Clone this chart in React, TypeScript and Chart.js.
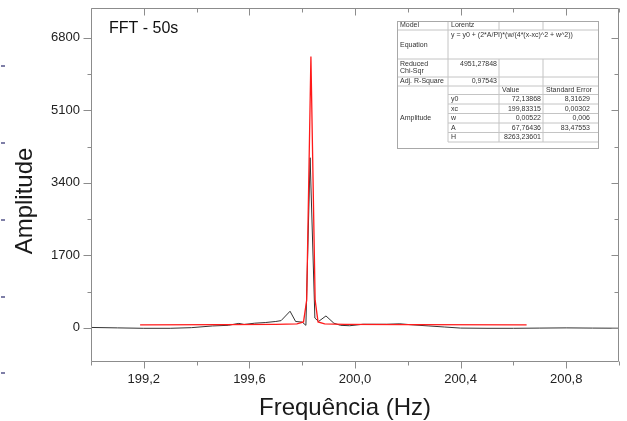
import React, { useEffect, useRef } from "react";
import { Chart, registerables } from "chart.js";

Chart.register(...registerables);

// ---- data ----
const freqHz = [199.0, 199.1, 199.2, 199.3, 199.38, 199.46, 199.52, 199.56, 199.58, 199.62, 199.66, 199.7, 199.72, 199.754, 199.775, 199.8, 199.814, 199.83, 199.848, 199.862, 199.89, 199.92, 199.945, 199.98, 200.03, 200.08, 200.12, 200.17, 200.22, 200.28, 200.34, 200.4, 200.5, 200.6, 200.7, 200.8, 200.9, 201.0];
const amplitude = [10, 0, -10, -10, 5, 45, 60, 105, 80, 110, 125, 150, 170, 390, 150, 135, 60, 3990, 230, 150, 280, 110, 60, 50, 85, 85, 85, 95, 70, 45, 20, -5, -10, -10, -5, 0, -5, -8];

const fitFreqHz = [199.186, 199.5, 199.7, 199.78, 199.805, 199.817, 199.833, 199.849, 199.86, 199.885, 199.96, 200.2, 200.65];
const fitAmplitude = [72, 74, 80, 92, 140, 650, 6360, 650, 140, 92, 80, 74, 72];

const xMajorTicks = [199.2, 199.6, 200.0, 200.4, 200.8];
const xMinorTicks = [199.0, 199.4, 199.8, 200.2, 200.6, 201.0];
const yMajorTicks = [0, 1700, 3400, 5100, 6800];
const yMinorTicks = [850, 2550, 4250, 5950];

const chartTitle = "FFT - 50s";
const xTitle = "Frequência (Hz)";
const yTitle = "Amplitude";

const tableModel = ["Model", "Lorentz"];
const tableEquation = ["Equation", "y = y0 + (2*A/PI)*(w/(4*(x-xc)^2 + w^2))"];
const tableChi = ["Reduced", "Chi-Sqr", "4951,27848"];
const tableR2 = ["Adj. R-Square", "0,97543"];
const tableHeader = ["Value", "Standard Error"];
const tableGroup = "Amplitude";
const paramNames = ["y0", "xc", "w", "A", "H"];
const paramValues = ["72,13868", "199,83315", "0,00522", "67,76436", "8263,23601"];
const paramErrors = ["8,31629", "0,00302", "0,006", "83,47553", ""];

const FONT = '"Liberation Sans", Arial, Helvetica, sans-serif';

const fmt = (v: number) => v.toFixed(1).replace(".", ",");

const decorPlugin = {
  id: "decor",
  afterDraw(chart: any) {
    const { ctx, chartArea } = chart;
    const { left, right, top, bottom } = chartArea;
    const xs = chart.scales.x;
    const ys = chart.scales.y;
    ctx.save();
    // frame
    ctx.strokeStyle = "#8c8c8c";
    ctx.lineWidth = 1;
    const L = Math.round(left) + 0.5, R = Math.round(right) - 0.5, T = Math.round(top) + 0.5, B = Math.round(bottom) - 0.5;
    ctx.beginPath();
    ctx.rect(L, T, R - L, B - T);
    ctx.stroke();
    const line = (x1: number, y1: number, x2: number, y2: number) => {
      ctx.beginPath();
      ctx.moveTo(x1, y1);
      ctx.lineTo(x2, y2);
      ctx.stroke();
    };
    xMajorTicks.forEach((v) => {
      const p = Math.round(xs.getPixelForValue(v)) + 0.5;
      line(p, B, p, B + 7);
      line(p, T, p, T + 7);
    });
    xMinorTicks.forEach((v) => {
      const p = Math.round(xs.getPixelForValue(v)) + 0.5;
      line(p, B, p, B + 4);
      line(p, T, p, T + 4);
    });
    yMajorTicks.forEach((v) => {
      const p = Math.round(ys.getPixelForValue(v)) + 0.5;
      line(L - 8, p, L, p);
      line(R - 7, p, R, p);
    });
    yMinorTicks.forEach((v) => {
      const p = Math.round(ys.getPixelForValue(v)) + 0.5;
      line(L - 4, p, L, p);
      line(R - 4, p, R, p);
    });

    // plot title
    ctx.fillStyle = "#111";
    ctx.font = `16px ${FONT}`;
    ctx.textBaseline = "middle";
    ctx.textAlign = "left";
    ctx.fillText(chartTitle, 109, 29);

    // axis titles
    ctx.fillStyle = "#1a1a1a";
    ctx.font = `24px ${FONT}`;
    ctx.textAlign = "center";
    ctx.fillText(xTitle, 345, 408);
    ctx.save();
    ctx.translate(25, 201);
    ctx.rotate(-Math.PI / 2);
    ctx.fillText(yTitle, 0, 0);
    ctx.restore();

    // left edge marks
    ctx.strokeStyle = "#55558a";
    ctx.lineWidth = 1.5;
    [66, 143, 220, 297, 373].forEach((yy) => line(1, yy, 5, yy));

    // fit table
    const cx = [397, 448, 499, 543, 598];
    const ry = [21, 30, 59, 77, 86, 94.5, 104, 113.5, 123, 132.5, 142, 148];
    ctx.fillStyle = "#ffffff";
    ctx.fillRect(cx[0], ry[0], cx[4] - cx[0], ry[11] - ry[0]);
    ctx.strokeStyle = "#c4c4c4";
    ctx.lineWidth = 1;
    [1, 2, 3, 4].forEach((i) => line(cx[0], ry[i], cx[4], ry[i]));
    [5, 6, 7, 8, 9, 10].forEach((i) => line(cx[1], ry[i], cx[4], ry[i]));
    line(cx[1], ry[0], cx[1], ry[10]);
    [2, 3].forEach((c) => {
      line(cx[c], ry[0], cx[c], ry[1]);
      line(cx[c], ry[2], cx[c], ry[10]);
    });
    ctx.strokeStyle = "#a8a8a8";
    ctx.strokeRect(cx[0] + 0.5, ry[0] + 0.5, cx[4] - cx[0], ry[11] - ry[0]);

    ctx.fillStyle = "#333";
    ctx.font = `7px ${FONT}`;
    ctx.textBaseline = "middle";
    const mid = (a: number, b: number) => (a + b) / 2;
    const txt = (s: string, x: number, y: number, align: CanvasTextAlign = "left") => {
      ctx.textAlign = align;
      ctx.fillText(s, x, y);
    };
    txt(tableModel[0], cx[0] + 3, mid(ry[0], ry[1]));
    txt(tableModel[1], cx[1] + 3, mid(ry[0], ry[1]));
    txt(tableEquation[0], cx[0] + 3, mid(ry[1], ry[2]) + 1);
    txt(tableEquation[1], cx[1] + 3, ry[1] + 5.5);
    txt(tableChi[0], cx[0] + 3, ry[2] + 5.5);
    txt(tableChi[1], cx[0] + 3, ry[2] + 12);
    txt(tableChi[2], cx[2] - 2, ry[2] + 5.5, "right");
    txt(tableR2[0], cx[0] + 3, mid(ry[3], ry[4]));
    txt(tableR2[1], cx[2] - 2, mid(ry[3], ry[4]), "right");
    txt(tableHeader[0], cx[2] + 3, mid(ry[4], ry[5]));
    txt(tableHeader[1], cx[3] + 3, mid(ry[4], ry[5]));
    txt(tableGroup, cx[0] + 3, mid(ry[5], ry[10]));
    paramNames.forEach((n, i) => {
      const yy = mid(ry[5 + i], ry[6 + i]);
      txt(n, cx[1] + 3, yy);
      txt(paramValues[i], cx[3] - 2, yy, "right");
      if (paramErrors[i]) txt(paramErrors[i], cx[4] - 8, yy, "right");
    });
    ctx.restore();
  },
};

export default function App() {
  const ref = useRef<HTMLCanvasElement | null>(null);
  useEffect(() => {
    document.body.style.margin = "0";
    const canvas = ref.current!;
    const chart = new Chart(canvas, {
      type: "line",
      data: {
        datasets: [
          {
            label: "Fit",
            data: fitFreqHz.map((x, i) => ({ x, y: fitAmplitude[i] })),
            borderColor: "#ff1a1a",
            borderWidth: 1.3,
            pointRadius: 0,
            tension: 0,
            fill: false,
          },
          {
            label: "FFT",
            data: freqHz.map((x, i) => ({ x, y: amplitude[i] })),
            borderColor: "#333333",
            borderWidth: 1,
            pointRadius: 0,
            tension: 0,
            fill: false,
          },
        ],
      },
      options: {
        animation: false,
        responsive: false,
        devicePixelRatio: 1,
        layout: { padding: { top: 8, right: 8, left: 0, bottom: 0 } },
        plugins: { legend: { display: false }, tooltip: { enabled: false }, title: { display: false } },
        scales: {
          x: {
            type: "linear",
            min: 199.0,
            max: 201.0,
            afterFit: (s: any) => { s.height = 59; s.paddingLeft = 0; s.paddingRight = 0; },
            afterBuildTicks: (s: any) => { s.ticks = xMajorTicks.map((v) => ({ value: v })); },
            grid: { display: false, drawTicks: false },
            border: { display: false },
            ticks: {
              callback: (v: any) => fmt(Number(v)),
              color: "#222",
              font: { family: FONT, size: 13 },
              padding: 10,
              maxRotation: 0,
              autoSkip: false,
            },
            title: { display: false },
          },
          y: {
            type: "linear",
            min: -800,
            max: 7500,
            afterFit: (s: any) => { s.width = 91; s.paddingTop = 0; s.paddingBottom = 0; },
            afterBuildTicks: (s: any) => { s.ticks = yMajorTicks.map((v) => ({ value: v })); },
            grid: { display: false, drawTicks: false },
            border: { display: false },
            ticks: {
              callback: (v: any) => String(v),
              color: "#222",
              font: { family: FONT, size: 13 },
              padding: 11,
              autoSkip: false,
            },
            title: { display: false },
          },
        },
      },
      plugins: [decorPlugin],
    });
    return () => chart.destroy();
  }, []);
  return (
    <div style={{ position: "absolute", left: 0, top: 0, width: 627, height: 421, background: "#fff" }}>
      <canvas ref={ref} width={627} height={421} style={{ display: "block", width: 627, height: 421 }} />
    </div>
  );
}
